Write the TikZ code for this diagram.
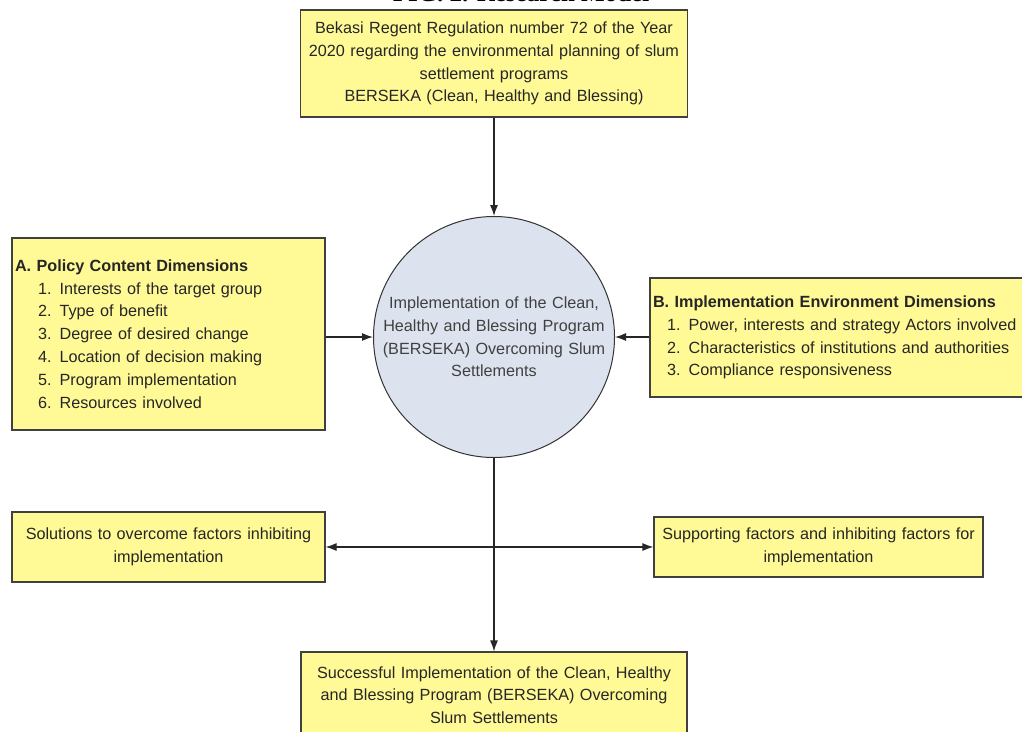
\documentclass[tikz,border=0pt]{standalone}
\usepackage{fontspec}
\setmainfont{Liberation Sans}
\newfontfamily\capfont{Liberation Serif}
\usetikzlibrary{arrows.meta, positioning}
\definecolor{boxyellow}{RGB}{255,250,150}
\definecolor{hubblue}{RGB}{221,227,238}
\definecolor{edgegrey}{RGB}{64,64,64}
\tikzset{
  box/.style={draw=edgegrey, line width=1.2pt, fill=boxyellow, align=center, inner sep=0pt, text=black!85},
  hub/.style={draw=black!80, line width=1pt, circle, fill=hubblue, align=center, minimum size=241pt, inner sep=0pt, text width=226pt, text=black!75},
  arrow/.style={-{Latex[length=11pt,width=8pt]}, line width=1.2pt, black!85},
  twoway/.style={{Latex[length=11pt,width=8pt]}-{Latex[length=11pt,width=8pt]}, line width=1.2pt, black!85},
  every node/.style={font=\fontsize{16.2}{22.8}\selectfont}
}

\begin{document}
\begin{tikzpicture}[x=1pt, y=-1pt]
    \useasboundingbox (0,0) rectangle (1022,731);
    \node[anchor=base, font=\capfont\bfseries\fontsize{25}{25}\selectfont] (caption) at (521,1.2) {FIG. 2. Research Model};

    \node[box, minimum width=387pt, minimum height=107pt, text width=380pt] (law) at (494,63.5)
      {Bekasi Regent Regulation number 72 of the Year\\2020 regarding the environmental planning of slum\\settlement programs\\BERSEKA (Clean, Healthy and Blessing)};
    \node[hub] (hub) at (494,337)
      {Implementation of the Clean,\\Healthy and Blessing Program\\(BERSEKA) Overcoming Slum\\Settlements};
    \node[box, align=left, minimum width=313pt, minimum height=192pt, text width=307pt] (content) at (168.5,334)
      {\textbf{A. Policy Content Dimensions}\\
       \hspace*{23pt}1. Interests of the target group\\
       \hspace*{23pt}2. Type of benefit\\
       \hspace*{23pt}3. Degree of desired change\\
       \hspace*{23pt}4. Location of decision making\\
       \hspace*{23pt}5. Program implementation\\
       \hspace*{23pt}6. Resources involved};
    \node[box, align=left, minimum width=376pt, minimum height=119pt, text width=370pt] (environment) at (838,337.5)
      {\textbf{B. Implementation Environment Dimensions}\\
       \hspace*{14pt}1. Power, interests and strategy Actors involved\\
       \hspace*{14pt}2. Characteristics of institutions and authorities\\
       \hspace*{14pt}3. Compliance responsiveness};
    \node[box, minimum width=313pt, minimum height=70pt, text width=305pt] (solution) at (168.5,547)
      {Solutions to overcome factors inhibiting\\implementation};
    \node[box, minimum width=329pt, minimum height=60pt, text width=320pt] (support) at (818.5,547)
      {Supporting factors and inhibiting factors for\\implementation};
    \node[box, minimum width=386pt, minimum height=86pt, text width=380pt] (success) at (494,695)
      {Successful Implementation of the Clean, Healthy\\and Blessing Program (BERSEKA) Overcoming\\Slum Settlements};

    \draw[arrow] (law) -- (hub);
    \draw[arrow] (content.east |- hub.west) -- (hub.west);
    \draw[arrow] (environment.west |- hub.east) -- (hub.east);
    \draw[arrow] (hub) -- (success);
    \draw[twoway] (solution) -- (support);
\end{tikzpicture}
\end{document}
